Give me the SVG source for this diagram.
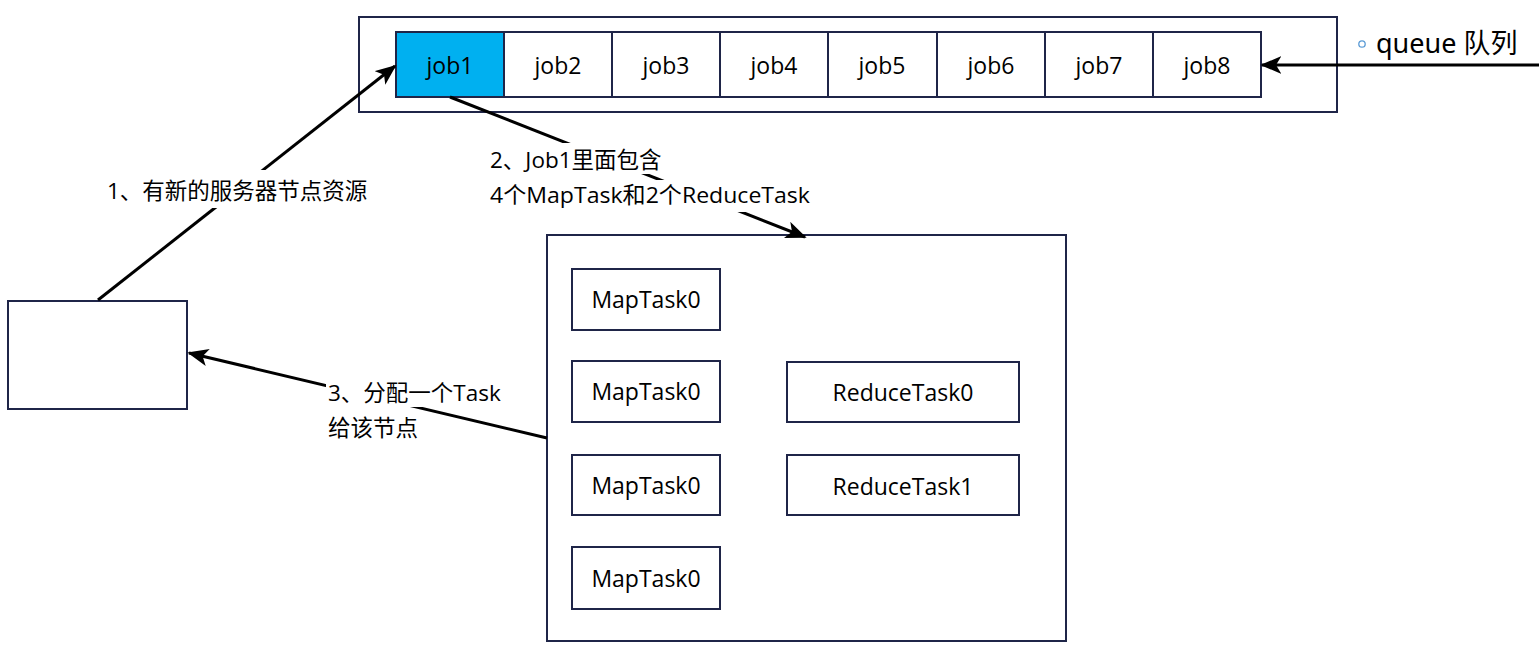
<svg xmlns="http://www.w3.org/2000/svg" width="1539" height="654" viewBox="0 0 1539 654">
<defs>
<style>
.box{fill:#fff;stroke:#1f2548;stroke-width:2}
.t{font-family:"Open Sans","Noto Sans","Noto Sans CJK SC",sans-serif;font-size:23px;fill:#000}
.lbl{font-family:"Open Sans","Noto Sans CJK SC",sans-serif;font-size:22.5px;fill:#000}
.c{text-anchor:middle}
.ar{stroke:#000;stroke-width:3;fill:none;marker-end:url(#ah)}
.bg{fill:#fff}
</style>
<marker id="ah" viewBox="0 0 12 10" refX="11" refY="5" markerWidth="7" markerHeight="6" orient="auto" markerUnits="strokeWidth">
<path d="M0,0 L12,5 L0,10 L3,5 z" fill="#000"/>
</marker>
</defs>
<rect width="1539" height="654" fill="#fff"/>

<g id="queue">
<rect class="box" x="359" y="17" width="978" height="95"/>
</g>
<g id="job1"><rect x="396" y="32" width="108" height="65" fill="#00b0f0" stroke="#1f2548" stroke-width="2"/><text class="t c" x="450" y="74">job1</text></g>
<g id="job2"><rect class="box" x="504" y="32" width="108" height="65"/><text class="t c" x="558" y="74">job2</text></g>
<g id="job3"><rect class="box" x="612" y="32" width="108" height="65"/><text class="t c" x="666" y="74">job3</text></g>
<g id="job4"><rect class="box" x="720" y="32" width="108" height="65"/><text class="t c" x="774" y="74">job4</text></g>
<g id="job5"><rect class="box" x="828" y="32" width="109" height="65"/><text class="t c" x="882" y="74">job5</text></g>
<g id="job6"><rect class="box" x="937" y="32" width="108" height="65"/><text class="t c" x="991" y="74">job6</text></g>
<g id="job7"><rect class="box" x="1045" y="32" width="108" height="65"/><text class="t c" x="1099" y="74">job7</text></g>
<g id="job8"><rect class="box" x="1153" y="32" width="108" height="65"/><text class="t c" x="1207" y="74">job8</text></g>

<g id="queue-label">
<circle cx="1362" cy="44" r="3.2" fill="none" stroke="#5b9bd5" stroke-width="1.3"/>
<text x="1376" y="53" style="font-family:'Noto Sans','Noto Sans CJK SC',sans-serif;font-size:27px;fill:#000">queue 队列</text>
</g>

<g id="node"><rect class="box" x="8" y="301" width="179" height="108"/></g>

<g id="taskbox"><rect class="box" x="547" y="235" width="519" height="406"/></g>
<g id="map0a"><rect class="box" x="572" y="269" width="148" height="61"/><text class="t c" x="646" y="308">MapTask0</text></g>
<g id="map0b"><rect class="box" x="572" y="361" width="148" height="61"/><text class="t c" x="646" y="400">MapTask0</text></g>
<g id="map0c"><rect class="box" x="572" y="455" width="148" height="60"/><text class="t c" x="646" y="494">MapTask0</text></g>
<g id="map0d"><rect class="box" x="572" y="547" width="148" height="62"/><text class="t c" x="646" y="587">MapTask0</text></g>
<g id="reduce0"><rect class="box" x="787" y="362" width="232" height="60"/><text class="t c" x="903" y="401">ReduceTask0</text></g>
<g id="reduce1"><rect class="box" x="787" y="455" width="232" height="60"/><text class="t c" x="903" y="495">ReduceTask1</text></g>

<g id="connectors">
<line class="ar" x1="1539" y1="65" x2="1262" y2="65"/>
<line class="ar" x1="98" y1="300" x2="395" y2="66"/>
<line class="ar" x1="450" y1="97" x2="805" y2="237"/>
<line class="ar" x1="547" y1="438" x2="189" y2="353"/>
</g>

<g id="labels">
<rect class="bg" x="105" y="170" width="266" height="38"/>
<text class="lbl" x="107" y="199">1、有新的服务器节点资源</text>
<rect class="bg" x="488" y="143" width="181" height="31"/>
<rect class="bg" x="488" y="180" width="330" height="32"/>
<text class="lbl" x="490" y="168">2、Job1里面包含</text>
<text class="lbl" x="490" y="203" textLength="320" lengthAdjust="spacingAndGlyphs">4个MapTask和2个ReduceTask</text>
<rect class="bg" x="326" y="379" width="178" height="28"/>
<rect class="bg" x="326" y="413" width="94" height="29"/>
<text class="lbl" x="328" y="401">3、分配一个Task</text>
<text class="lbl" x="328" y="436">给该节点</text>
</g>
</svg>
